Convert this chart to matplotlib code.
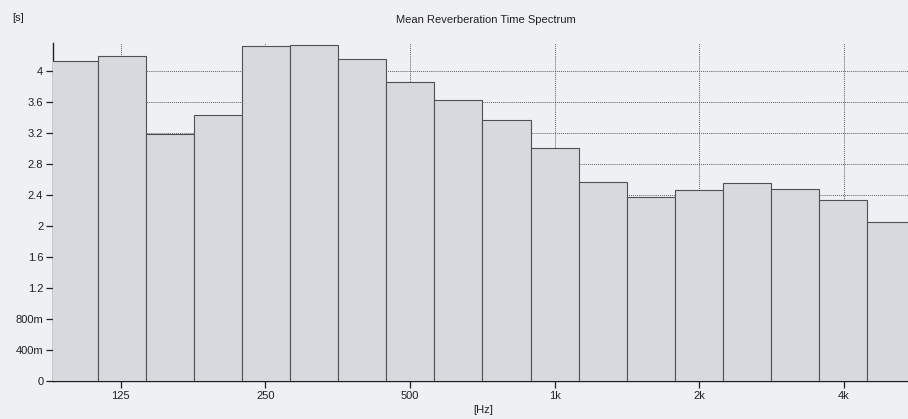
import numpy as np
import matplotlib
matplotlib.use("Agg")
import matplotlib.pyplot as plt
from matplotlib.ticker import FixedLocator, FixedFormatter, NullLocator

# Data
bands = [100, 125, 160, 200, 250, 315, 400, 500, 630, 800,
         1000, 1250, 1600, 2000, 2500, 3150, 4000, 5000]
rt_values = [4.13, 4.19, 3.19, 3.43, 4.32, 4.34, 4.15, 3.86, 3.62, 3.37,
             3.00, 2.57, 2.37, 2.46, 2.55, 2.48, 2.33, 2.05]
x_ticks = [125, 250, 500, 1000, 2000, 4000]
x_tick_labels = ["125", "250", "500", "1k", "2k", "4k"]
y_ticks = [0, 0.4, 0.8, 1.2, 1.6, 2.0, 2.4, 2.8, 3.2, 3.6, 4.0]
y_tick_labels = ["0", "400m", "800m", "1.2", "1.6", "2", "2.4", "2.8", "3.2", "3.6", "4"]

plt.rcParams['font.family'] = ['Liberation Sans', 'DejaVu Sans']

bg = '#eef0f4'
fig = plt.figure(figsize=(9.08, 4.19), dpi=100, facecolor=bg)
ax = fig.add_axes([53/908, 1 - 381/419, 1 - 53/908, (381 - 43)/419])
ax.set_facecolor(bg)

idx = np.round(10 * np.log10(bands))
lo = 10 ** ((idx - 0.5) / 10)
hi = 10 ** ((idx + 0.5) / 10)

ax.set_xscale('log')
ax.bar(lo, rt_values, width=hi - lo, align='edge', color='#d7d9de',
       edgecolor='#505050', linewidth=0.8, zorder=3)

ax.set_xlim(90.4, 5440)
ax.set_ylim(0, 4.36)

ax.xaxis.set_major_locator(FixedLocator(x_ticks))
ax.xaxis.set_major_formatter(FixedFormatter(x_tick_labels))
ax.xaxis.set_minor_locator(NullLocator())
ax.yaxis.set_major_locator(FixedLocator(y_ticks))
ax.yaxis.set_major_formatter(FixedFormatter(y_tick_labels))

ax.grid(True, which='major', color='#606060', linestyle=(0, (1, 1)), linewidth=0.7, zorder=0)
ax.set_axisbelow(True)

for s in ['top', 'right']:
    ax.spines[s].set_visible(False)
for s in ['left', 'bottom']:
    ax.spines[s].set_color('#202020')
    ax.spines[s].set_linewidth(1.0)

ax.tick_params(axis='both', direction='out', length=5, width=0.9, color='#202020',
               labelsize=8, labelcolor='#202020', pad=2)

fig.text(486/908, 1 - 20/419, "Mean Reverberation Time Spectrum", ha='center', va='center',
         fontsize=8, color='#202020')
fig.text(12/908, 1 - 18/419, "[s]", ha='left', va='center', fontsize=8, color='#202020')
fig.text(483/908, 1 - 410/419, "[Hz]", ha='center', va='center', fontsize=8, color='#202020')

fig.savefig("out.png", dpi=100, facecolor=bg)
